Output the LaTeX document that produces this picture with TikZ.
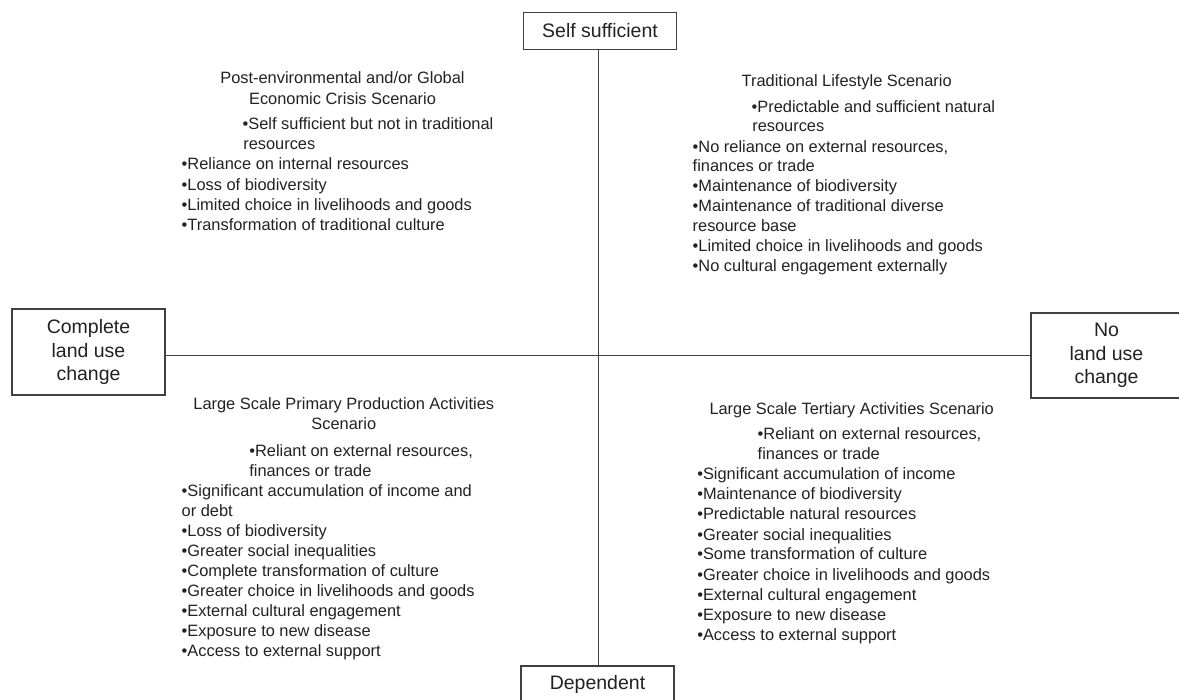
\documentclass[tikz,border=0pt]{standalone}
\usepackage{fontspec}
\setmainfont{Liberation Sans}
\definecolor{ink}{HTML}{222222}
\definecolor{edge}{HTML}{404040}
\begin{document}
\begin{tikzpicture}[x=1pt,y=-1pt,
  txt/.style={inner sep=0pt,outer sep=0pt,text=ink,font=\fontsize{16.4}{20}\selectfont},
  lt/.style={txt,anchor=base west},
  ct/.style={txt,anchor=base},
  axisbox/.style={draw=edge,line width=1.2pt,fill=white,inner sep=0pt,text=ink,
     font=\fontsize{19.5}{23.5}\selectfont,align=center},
  axisline/.style={draw=edge,line width=1.1pt}]
\path[use as bounding box] (0,0) rectangle (1179,700);
\clip (0,0) rectangle (1179,700);
\fill[white] (0,0) rectangle (1179,700);

% axis boxes
\node[axisbox,minimum width=153.4pt,minimum height=37pt,text depth=1.2pt] (top) at (600,30.8) {Self sufficient};
\node[axisbox,minimum width=153pt,minimum height=37pt] (bot) at (597.5,684.5) {Dependent};
\node[axisbox,minimum width=153pt,minimum height=86pt] (left) at (88.5,352) {Complete\\land use\\change};
\node[axisbox,minimum width=151pt,minimum height=85pt] (right) at (1106.5,355.5) {No\\land use\\change};
\coordinate (vx) at (598.5,0);

\draw[axisline] (top.south -| vx) -- (bot.north -| vx);
\draw[axisline] (left.east |- right.west) -- (right.west);

% top-left quadrant
\node[ct] (a1) at (342.5,84) {Post-environmental and/or Global};
\node[ct] (a2) at (342.5,104.7) {Economic Crisis Scenario};
\node[lt] (a3) at (242.7,130) {•Self sufficient but not in traditional};
\node[lt] (a4) at (243.3,149.5) {resources};
\node[lt] (a5) at (181.7,170) {•Reliance on internal resources};
\node[lt] (a6) at (181.7,190.5) {•Loss of biodiversity};
\node[lt] (a7) at (181.7,210.7) {•Limited choice in livelihoods and goods};
\node[lt] (a8) at (181.7,230.7) {•Transformation of traditional culture};

% top-right quadrant
\node[ct] (b1) at (846.7,86.7) {Traditional Lifestyle Scenario};
\node[lt] (b2) at (751.7,112.7) {•Predictable and sufficient natural};
\node[lt] (b3) at (752.3,131.7) {resources};
\node[lt] (b4) at (692.7,152.7) {•No reliance on external resources,};
\node[lt] (b5) at (692.7,171.7) {finances or trade};
\node[lt] (b6) at (692.7,191.7) {•Maintenance of biodiversity};
\node[lt] (b7) at (692.7,211.7) {•Maintenance of traditional diverse};
\node[lt] (b8) at (692.7,231.7) {resource base};
\node[lt] (b9) at (692.7,251.7) {•Limited choice in livelihoods and goods};
\node[lt] (b10) at (692.7,271.7) {•No cultural engagement externally};

% bottom-left quadrant
\node[ct] (c1) at (343.8,410) {Large Scale Primary Production Activities};
\node[ct] (c2) at (343.8,430) {Scenario};
\node[lt] (c3) at (249.3,456.7) {•Reliant on external resources,};
\node[lt] (c4) at (249.3,476.7) {finances or trade};
\node[lt] (c5) at (181.7,496.7) {•Significant accumulation of income and};
\node[lt] (c6) at (181.7,516.7) {or debt};
\node[lt] (c7) at (181.7,536.7) {•Loss of biodiversity};
\node[lt] (c8) at (181.7,556.7) {•Greater social inequalities};
\node[lt] (c9) at (181.7,576.7) {•Complete transformation of culture};
\node[lt] (c10) at (181.7,596.7) {•Greater choice in livelihoods and goods};
\node[lt] (c11) at (181.7,616.7) {•External cultural engagement};
\node[lt] (c12) at (181.7,636.7) {•Exposure to new disease};
\node[lt] (c13) at (181.7,656.7) {•Access to external support};

% bottom-right quadrant
\node[ct] (d1) at (851.7,415) {Large Scale Tertiary Activities Scenario};
\node[lt] (d2) at (757.7,440) {•Reliant on external resources,};
\node[lt] (d3) at (757.7,460) {finances or trade};
\node[lt] (d4) at (697.3,480) {•Significant accumulation of income};
\node[lt] (d5) at (697.3,500) {•Maintenance of biodiversity};
\node[lt] (d6) at (697.3,520) {•Predictable natural resources};
\node[lt] (d7) at (697.3,540) {•Greater social inequalities};
\node[lt] (d8) at (697.3,560) {•Some transformation of culture};
\node[lt] (d9) at (697.3,580) {•Greater choice in livelihoods and goods};
\node[lt] (d10) at (697.3,600) {•External cultural engagement};
\node[lt] (d11) at (697.3,620) {•Exposure to new disease};
\node[lt] (d12) at (697.3,640) {•Access to external support};
\end{tikzpicture}
\end{document}
